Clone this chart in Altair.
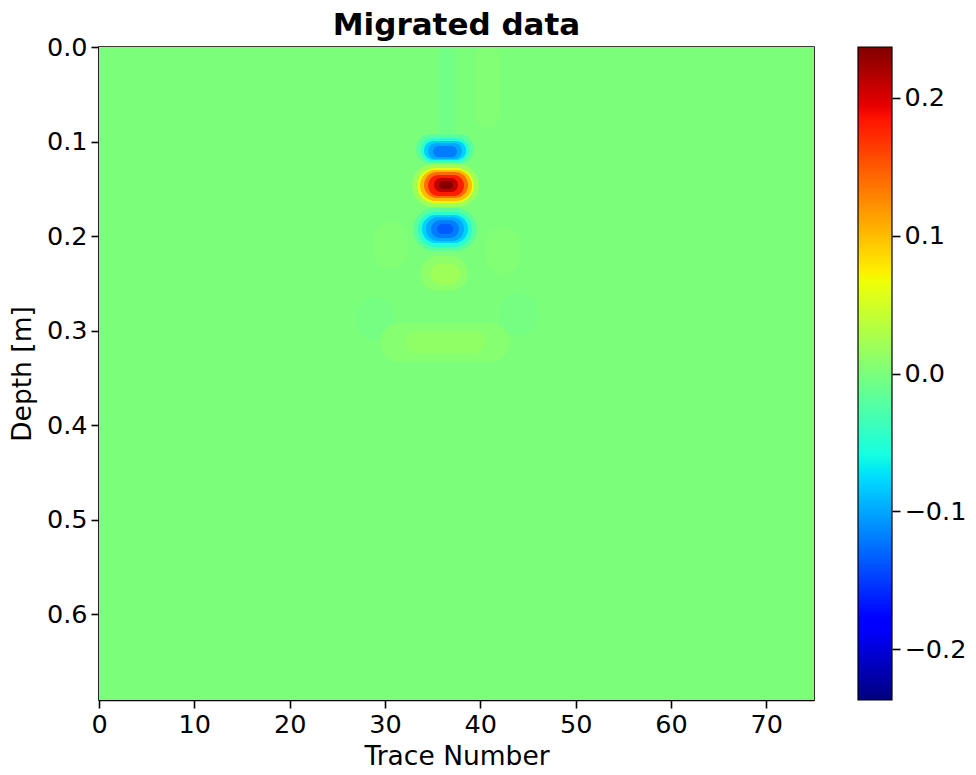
import altair as alt
import pandas as pd

# ---- value range of the colour bar and axis extents ----
VMAX = 0.2366
TRACE_DOMAIN = [0, 75]
DEPTH_DOMAIN = [0, 0.691]
x_ticks = [0, 10, 20, 30, 40, 50, 60, 70]
y_ticks = [0.0, 0.1, 0.2, 0.3, 0.4, 0.5, 0.6]
cbar_ticks = [-0.2, -0.1, 0.0, 0.1, 0.2]

# ---- contour levels of the migrated image ----
# (each entry: amplitude inside a level, its trace extent and depth extent)
level_value = [
    -0.006, 0.004, 0.004, 0.004, -0.004, -0.004,
    0.006, 0.012, 0.010, 0.020,
    -0.02, -0.05, -0.08, -0.10, -0.12,
    0.02, 0.06, 0.10, 0.14, 0.18, 0.21, 0.235,
    -0.02, -0.05, -0.08, -0.10, -0.12, -0.135,
]
level_trace_lo = [
    35.6, 39.5, 28.8, 40.6, 27.0, 42.0,
    29.5, 32.1, 33.7, 34.7,
    33.25, 33.78, 34.09, 34.51, 35.04,
    32.83, 33.36, 33.67, 34.09, 34.51, 35.14, 35.67,
    32.94, 33.46, 33.88, 34.30, 34.83, 35.46,
]
level_trace_hi = [
    37.4, 42.0, 32.4, 44.2, 31.0, 46.0,
    43.1, 40.5, 38.7, 37.9,
    39.34, 38.82, 38.50, 38.08, 37.56,
    39.86, 39.34, 39.13, 38.71, 38.29, 37.66, 37.14,
    39.65, 39.13, 38.71, 38.29, 37.76, 37.14,
]
level_depth_lo = [
    0.000, 0.000, 0.185, 0.190, 0.265, 0.260,
    0.292, 0.301, 0.221, 0.229,
    0.0921, 0.0963, 0.0995, 0.1016, 0.1048,
    0.1239, 0.1281, 0.1302, 0.1323, 0.1355, 0.1387, 0.1419,
    0.1705, 0.1747, 0.1779, 0.1800, 0.1832, 0.1874,
]
level_depth_hi = [
    0.095, 0.085, 0.235, 0.240, 0.310, 0.305,
    0.333, 0.324, 0.258, 0.251,
    0.1239, 0.1218, 0.1196, 0.1186, 0.1165,
    0.1694, 0.1652, 0.1630, 0.1599, 0.1578, 0.1535, 0.1503,
    0.2160, 0.2118, 0.2075, 0.2054, 0.2022, 0.1980,
]

# ---- jet colour map (matplotlib segment stops) ----
jet_pos = [0.0, 0.11, 0.125, 0.34, 0.35, 0.375, 0.64, 0.65, 0.66, 0.89, 0.91, 1.0]
jet_col = ["#000080", "#0000ff", "#0000ff", "#00dbff", "#00e6f7", "#15ffe2",
           "#eeff08", "#f7f600", "#ffec00", "#ff1300", "#e80000", "#800000"]
color_domain = [-VMAX + p * 2 * VMAX for p in jet_pos]
color_scale = alt.Scale(domain=color_domain, range=jet_col, interpolate="rgb", clamp=True)

levels = pd.DataFrame({
    "v": level_value, "t0": level_trace_lo, "t1": level_trace_hi,
    "d0": level_depth_lo, "d1": level_depth_hi,
})
background = pd.DataFrame({"v": [0.0], "t0": [TRACE_DOMAIN[0]], "t1": [TRACE_DOMAIN[1]],
                           "d0": [DEPTH_DOMAIN[0]], "d1": [DEPTH_DOMAIN[1]]})

x_enc = alt.X("t0:Q", scale=alt.Scale(domain=TRACE_DOMAIN, nice=False, zero=False),
              axis=alt.Axis(values=x_ticks, title="Trace Number", format="d"))
y_enc = alt.Y("d0:Q", scale=alt.Scale(domain=DEPTH_DOMAIN, nice=False, zero=False, reverse=True),
              axis=alt.Axis(values=y_ticks, title="Depth [m]", format=".1f", orient="left"))
c_enc = alt.Color("v:Q", scale=color_scale, legend=None)

bg = alt.Chart(background).mark_rect().encode(x=x_enc, x2="t1:Q", y=y_enc, y2="d1:Q", color=c_enc)
blobs = alt.Chart(levels).mark_rect(cornerRadius=999).encode(
    x=x_enc, x2="t1:Q", y=y_enc, y2="d1:Q", color=c_enc)
main = alt.layer(bg, blobs)

# ---- colour bar ----
cbar_df = pd.DataFrame({"lo": [-VMAX], "hi": [VMAX]})
grad = alt.LinearGradient(
    gradient="linear",
    stops=[alt.GradientStop(color=c, offset=p) for p, c in zip(jet_pos, jet_col)],
    x1=0, x2=0, y1=1, y2=0,
)
cbar = alt.Chart(cbar_df).mark_rect(fill=grad, stroke="black", strokeWidth=1.2).encode(
    x=alt.value(759), x2=alt.value(793),
    y=alt.Y("lo:Q", scale=alt.Scale(domain=[-VMAX, VMAX], nice=False, zero=False),
            axis=alt.Axis(orient="right", offset=78, values=cbar_ticks, format=".1f",
                          title=None, domain=False)),
    y2="hi:Q",
)

chart = alt.layer(main, cbar).resolve_scale(y="independent").properties(
    width=715, height=653,
    title=alt.TitleParams("Migrated data", fontSize=31, fontWeight="bold", font="DejaVu Sans",
                          anchor="middle", frame="group", offset=-7, color="black"),
    padding={"left": 9, "top": 10, "right": 5, "bottom": 5},
).configure_view(stroke="black", strokeWidth=1.6).configure_axis(
    grid=False, labelFont="DejaVu Sans", labelFontSize=25.5, labelColor="black",
    titleFont="DejaVu Sans", titleFontSize=26.5, titleFontWeight="normal", titleColor="black",
    tickColor="black", tickWidth=1.6, tickSize=8, labelPadding=4,
    domainColor="black", domainWidth=1.6, labelFlush=False, labelOverlap=False,
).configure_axisX(titlePadding=6).configure_axisLeft(titlePadding=10)

chart.save("out.html", embed_options={"renderer": "svg", "actions": False})
